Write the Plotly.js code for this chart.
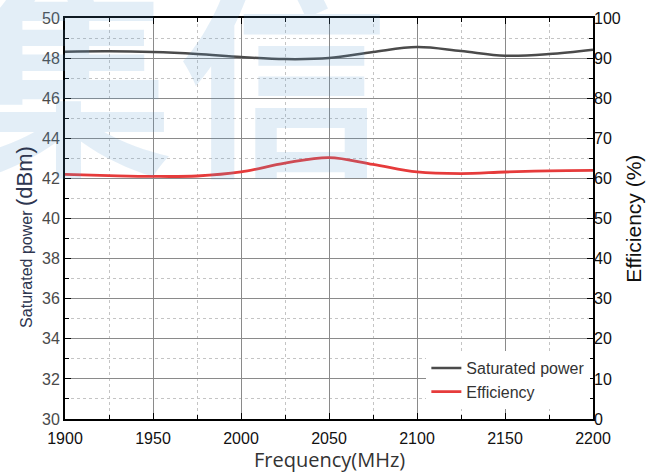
<!DOCTYPE html>
<html><head><meta charset="utf-8">
<script src="https://cdn.plot.ly/plotly-3.0.1.min.js"></script>
<style>body{margin:0;background:#fff}#c{width:658px;height:472px}</style>
</head><body><div id="c"></div>
<script>
const freq = [1900,1925,1950,1975,2000,2025,2050,2075,2100,2125,2150,2175,2200];
const satPower = [48.32,48.34,48.30,48.20,48.05,47.95,48.00,48.30,48.55,48.35,48.12,48.20,48.42];
const efficiency = [61.0,60.7,60.5,60.6,61.6,63.8,65.2,63.5,61.6,61.2,61.6,61.9,62.0];

const traces = [
  {x:freq, y:satPower, name:'Saturated power', mode:'lines', line:{color:'#4b4b4b', width:2.5, shape:'spline'}, yaxis:'y'},
  {x:freq, y:efficiency, name:'Efficiency', mode:'lines', line:{color:'#e63b3b', width:2.8, shape:'spline'}, yaxis:'y2'}
];
const tickFont = {family:'Liberation Sans, Arial, sans-serif', size:16, color:'#111'};
const wm = {family:'Noto Sans CJK SC', size:210, color:'rgba(90,155,210,0.17)', weight:'bold'};
const layout = {
  width:658, height:472,
  margin:{l:65, r:65, t:18, b:53},
  paper_bgcolor:'#fff', plot_bgcolor:'rgba(0,0,0,0)',
  showlegend:true,
  legend:{x:0.995, y:0.025, xanchor:'right', yanchor:'bottom', bgcolor:'#fff', font:{family:'Liberation Sans, Arial, sans-serif', size:16, color:'#333'}, tracegroupgap:0, itemwidth:30},
  xaxis:{range:[1900,2200], dtick:50, tick0:1900, showgrid:true, gridcolor:'#8a8a8a', gridwidth:1,
    ticks:'inside', ticklen:6, tickcolor:'#000', showline:true, linecolor:'#000', linewidth:2, mirror:'ticks',
    tickfont:tickFont, zeroline:false, ticklabelstandoff:4,
    minor:{dtick:25, showgrid:true, gridcolor:'#c4c4c4', griddash:'dot', ticks:'inside', ticklen:4, tickcolor:'#000'}},
  yaxis:{range:[30,50], dtick:2, showgrid:true, gridcolor:'#8a8a8a', gridwidth:1,
    ticks:'inside', ticklen:6, tickcolor:'#000', showline:true, linecolor:'#000', linewidth:2, mirror:'ticks',
    tickfont:{family:'Liberation Sans, Arial, sans-serif', size:16, color:'#4a4a4a'}, zeroline:false,
    minor:{dtick:1, showgrid:true, gridcolor:'#c4c4c4', griddash:'dot', ticks:'inside', ticklen:4, tickcolor:'#000'}},
  yaxis2:{range:[0,100], dtick:10, overlaying:'y', side:'right', showgrid:false, zeroline:false,
    ticks:'inside', ticklen:6, tickcolor:'#000', tickfont:{family:'Liberation Sans, Arial, sans-serif', size:16, color:'#111'},
    minor:{dtick:5, ticks:'inside', ticklen:4, tickcolor:'#000'}},
  annotations:[
    {text:'集', xref:'paper', yref:'paper', x:-0.195, y:1.26, xanchor:'left', yanchor:'top', showarrow:false, font:wm},
    {text:'信', xref:'paper', yref:'paper', x:0.21, y:1.26, xanchor:'left', yanchor:'top', showarrow:false, font:wm},
    {text:'Saturated power <span style="font-size:22px">(dBm)</span>', xref:'paper', yref:'paper', x:-0.077, y:0.455,
      xanchor:'center', yanchor:'middle', textangle:-90, showarrow:false,
      font:{family:'Liberation Sans, Arial, sans-serif', size:16, color:'#2e3650'}},
    {text:'Efficiency <span style="font-size:21px">(%)</span>', xref:'paper', yref:'paper', x:1.076, y:0.5,
      xanchor:'center', yanchor:'middle', textangle:-90, showarrow:false, bgcolor:'#fff', borderpad:7,
      font:{family:'Liberation Sans, Arial, sans-serif', size:21, color:'#111'}},
    {text:'Frequency(MHz)', xref:'paper', yref:'paper', x:0.5, y:-0.102, xanchor:'center', yanchor:'middle', showarrow:false,
      font:{family:'Open Sans, sans-serif', size:20, color:'#333'}}
  ]
};
Plotly.newPlot('c', traces, layout, {displayModeBar:false});
</script></body></html>
